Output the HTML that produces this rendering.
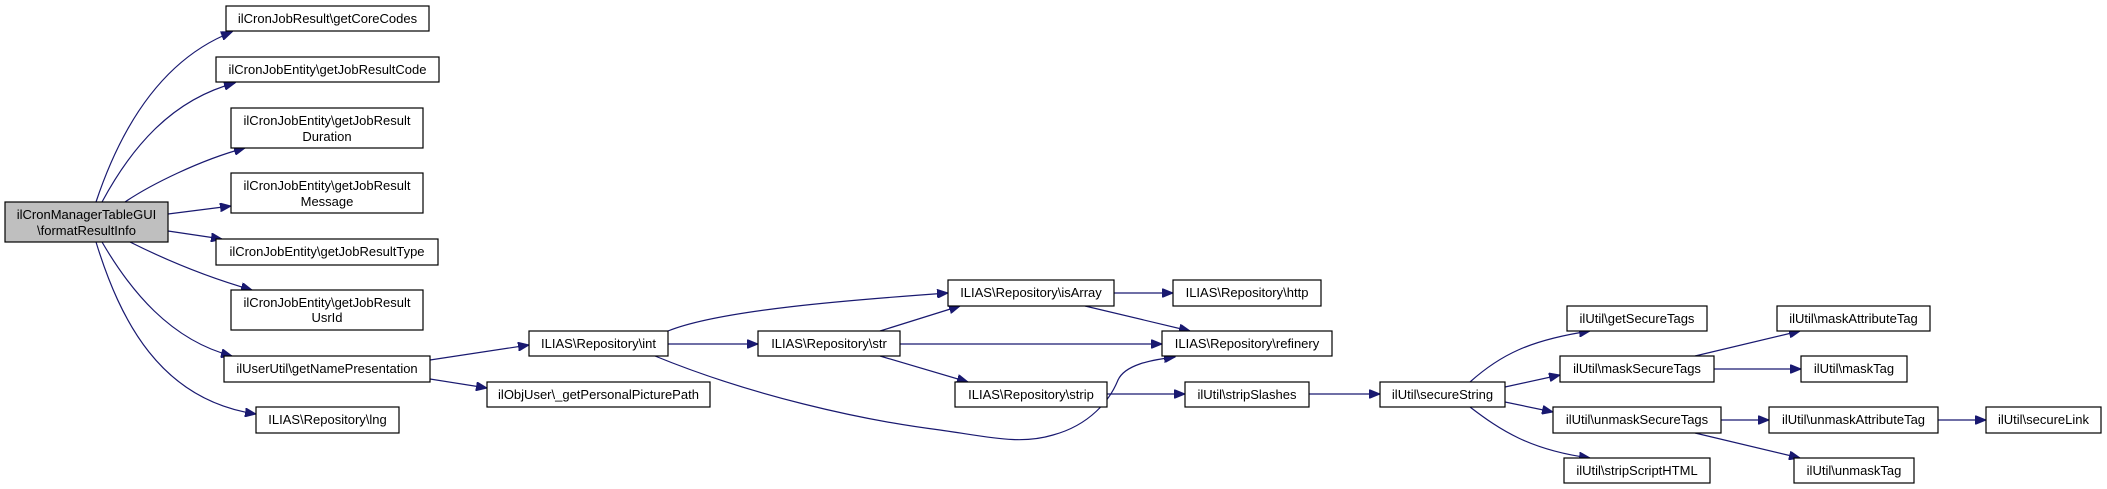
<!DOCTYPE html>
<html><head><meta charset="utf-8"><style>
html,body{margin:0;padding:0;background:#fff}
svg{display:block}
text{font-family:"Liberation Sans",Helvetica,sans-serif;font-size:13px;fill:#000}
rect{fill:#fff;stroke:#000;stroke-width:1.2}
path{fill:none;stroke:#191970;stroke-width:1.2}
</style></head><body>
<svg width="2107" height="489" viewBox="0 0 2107 489" xmlns="http://www.w3.org/2000/svg">
<defs><marker id="a" markerWidth="12" markerHeight="9" refX="11" refY="4.5" orient="auto" markerUnits="userSpaceOnUse"><polygon points="0,0 11,4.5 0,9" fill="#191970" stroke="#191970"/></marker></defs>
<g marker-end="url(#a)">
<path d="M96,202 C120,130 160,60 232,32"/>
<path d="M102,202 C130,150 170,100 235,83"/>
<path d="M125,202 C150,185 200,160 245,148"/>
<path d="M168,214 L231,206"/>
<path d="M168,231 L222,239"/>
<path d="M130,242 C170,262 210,278 252,290"/>
<path d="M102,242 C130,290 170,340 232,356"/>
<path d="M96,242 C120,320 160,400 256,414"/>
<path d="M430,360 L529,345"/>
<path d="M430,379 L487,388"/>
<path d="M668,331 C720,310 850,300 948,293"/>
<path d="M668,344 L758,344"/>
<path d="M655,356 C750,395 860,420 940,430 C990,437 1020,445 1053,435 C1090,425 1110,400 1118,380 C1125,365 1150,360 1175,357"/>
<path d="M880,331 L960,306"/>
<path d="M900,344 L1162,344"/>
<path d="M880,356 L968,382"/>
<path d="M1114,293 L1173,293"/>
<path d="M1085,306 L1190,331"/>
<path d="M1107,394 L1185,394"/>
<path d="M1309,394 L1380,394"/>
<path d="M1470,382 C1500,355 1530,340 1590,331"/>
<path d="M1505,387 L1560,375"/>
<path d="M1505,402 L1553,412"/>
<path d="M1470,407 C1500,430 1530,450 1590,458"/>
<path d="M1695,356 L1800,331"/>
<path d="M1714,369 L1801,369"/>
<path d="M1721,420 L1769,420"/>
<path d="M1938,420 L1986,420"/>
<path d="M1695,433 L1800,458"/>
</g>
<g>
<rect x="5" y="202" width="163" height="40" style="fill:#bfbfbf"/>
<text x="86.5" y="219" text-anchor="middle">ilCronManagerTableGUI</text>
<text x="86.5" y="235" text-anchor="middle">\formatResultInfo</text>

<rect x="226" y="6" width="203" height="25"/><text x="327.5" y="23" text-anchor="middle">ilCronJobResult\getCoreCodes</text>
<rect x="216" y="57" width="223" height="25"/><text x="327.5" y="74" text-anchor="middle">ilCronJobEntity\getJobResultCode</text>
<rect x="231" y="108" width="192" height="40"/><text x="327" y="125" text-anchor="middle">ilCronJobEntity\getJobResult</text><text x="327" y="141" text-anchor="middle">Duration</text>
<rect x="231" y="173" width="192" height="40"/><text x="327" y="190" text-anchor="middle">ilCronJobEntity\getJobResult</text><text x="327" y="206" text-anchor="middle">Message</text>
<rect x="216" y="239" width="222" height="26"/><text x="327" y="256" text-anchor="middle">ilCronJobEntity\getJobResultType</text>
<rect x="231" y="290" width="192" height="40"/><text x="327" y="307" text-anchor="middle">ilCronJobEntity\getJobResult</text><text x="327" y="322" text-anchor="middle">UsrId</text>
<rect x="224" y="356" width="206" height="26"/><text x="327" y="373" text-anchor="middle">ilUserUtil\getNamePresentation</text>
<rect x="256" y="407" width="143" height="26"/><text x="327.5" y="424" text-anchor="middle">ILIAS\Repository\lng</text>
<rect x="529" y="331" width="139" height="25"/><text x="598.5" y="348" text-anchor="middle">ILIAS\Repository\int</text>
<rect x="487" y="382" width="223" height="25"/><text x="598.5" y="399" text-anchor="middle">ilObjUser\_getPersonalPicturePath</text>
<rect x="758" y="331" width="142" height="25"/><text x="829" y="348" text-anchor="middle">ILIAS\Repository\str</text>
<rect x="948" y="280" width="166" height="26"/><text x="1031" y="297" text-anchor="middle">ILIAS\Repository\isArray</text>
<rect x="955" y="382" width="152" height="25"/><text x="1031" y="399" text-anchor="middle">ILIAS\Repository\strip</text>
<rect x="1173" y="280" width="148" height="26"/><text x="1247" y="297" text-anchor="middle">ILIAS\Repository\http</text>
<rect x="1162" y="331" width="170" height="25"/><text x="1247" y="348" text-anchor="middle">ILIAS\Repository\refinery</text>
<rect x="1185" y="382" width="124" height="25"/><text x="1247" y="399" text-anchor="middle">ilUtil\stripSlashes</text>
<rect x="1380" y="382" width="125" height="25"/><text x="1442.5" y="399" text-anchor="middle">ilUtil\secureString</text>
<rect x="1567" y="306" width="140" height="25"/><text x="1637" y="323" text-anchor="middle">ilUtil\getSecureTags</text>
<rect x="1560" y="356" width="154" height="26"/><text x="1637" y="373" text-anchor="middle">ilUtil\maskSecureTags</text>
<rect x="1553" y="407" width="168" height="26"/><text x="1637" y="424" text-anchor="middle">ilUtil\unmaskSecureTags</text>
<rect x="1564" y="458" width="146" height="25"/><text x="1637" y="475" text-anchor="middle">ilUtil\stripScriptHTML</text>
<rect x="1777" y="306" width="153" height="25"/><text x="1853.5" y="323" text-anchor="middle">ilUtil\maskAttributeTag</text>
<rect x="1801" y="356" width="106" height="26"/><text x="1854" y="373" text-anchor="middle">ilUtil\maskTag</text>
<rect x="1769" y="407" width="169" height="26"/><text x="1853.5" y="424" text-anchor="middle">ilUtil\unmaskAttributeTag</text>
<rect x="1794" y="458" width="120" height="25"/><text x="1854" y="475" text-anchor="middle">ilUtil\unmaskTag</text>
<rect x="1986" y="407" width="115" height="26"/><text x="2043.5" y="424" text-anchor="middle">ilUtil\secureLink</text>
</g>
</svg>
</body></html>
